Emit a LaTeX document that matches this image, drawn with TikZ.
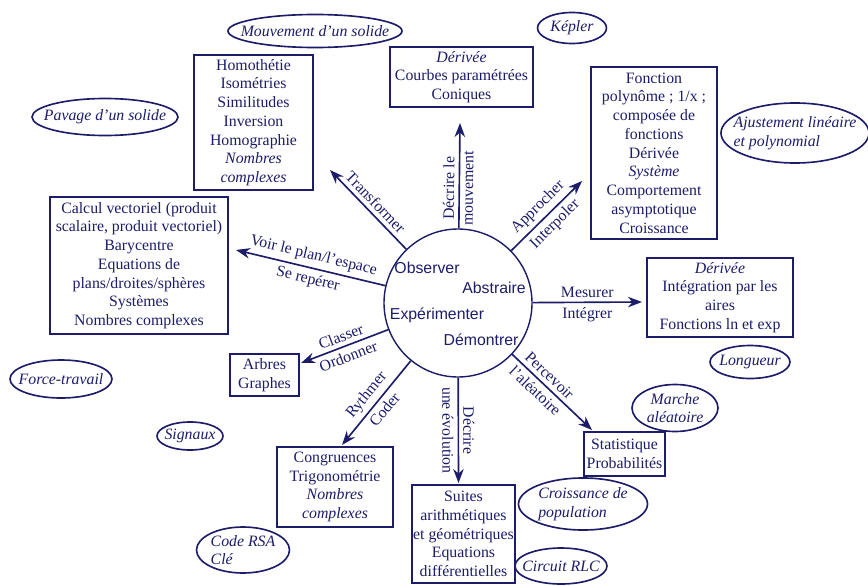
\documentclass[tikz,border=0pt]{standalone}
\usepackage{fontspec}
\setmainfont{Liberation Serif}
\setsansfont{Liberation Sans}
\usetikzlibrary{arrows.meta,shapes.geometric}
\definecolor{encre}{RGB}{28,28,105}

\begin{document}
\begin{tikzpicture}[x=0.03cm, y=-0.03cm, color=encre,
    every node/.style={font=\fontsize{13.5}{16}\selectfont},
    boite/.style={draw, line width=1.4pt, align=center, inner sep=1pt},
    bulle/.style={font=\fontsize{13.5}{16}\selectfont\itshape, align=center, inner sep=0pt},
    fleche/.style={line width=1.4pt, -{Stealth[length=12pt,width=9pt]}},
    etiq/.style={sloped, inner sep=3.5pt, midway},
    mot/.style={font=\fontsize{13.5}{16}\selectfont\sffamily}]
    \useasboundingbox (0,0) rectangle (868,585);
    % 中心圆
    \node[draw, circle, line width=1.2pt, minimum size=4.44cm] (centre) at (458,303) {};
    \node[mot] (observer) at (427,268) {Observer};
    \node[mot] (abstraire) at (494,288) {Abstraire};
    \node[mot] (experim) at (437,315) {Expérimenter};
    \node[mot] (demontrer) at (481,340) {Démontrer};

    % 方框
    \node[boite, minimum width=3.57cm, minimum height=4.05cm] (bTransf) at (253.5,122.5)
        {Homothétie\\Isométries\\Similitudes\\Inversion\\Homographie\\\textit{Nombres}\\\textit{complexes}};
    \node[boite, minimum width=4.29cm, minimum height=1.80cm] (bCourbe) at (461.5,77)
        {\textit{Dérivée}\\Courbes paramétrées\\Coniques};
    \node[boite, minimum width=3.78cm, minimum height=5.16cm] (bFonct) at (654,153)
        {Fonction\\polynôme ; 1/x ;\\composée de\\fonctions\\Dérivée\\\textit{Système}\\Comportement\\asymptotique\\Croissance};
    \node[boite, minimum width=4.38cm, minimum height=2.37cm] (bInteg) at (720,297.5)
        {\textit{Dérivée}\\Intégration par les\\aires\\Fonctions ln et  exp};
    \node[boite, minimum width=5.34cm, minimum height=4.11cm] (bVect) at (139,265.5)
        {Calcul vectoriel (produit\\scalaire, produit vectoriel)\\Barycentre\\Equations de\\plans/droites/sphères\\Systèmes\\Nombres complexes};
    \node[boite, minimum width=2.07cm, minimum height=1.26cm] (bGraphe) at (264.5,375)
        {Arbres\\Graphes};
    \node[boite, minimum width=3.48cm, minimum height=2.40cm] (bCongr) at (335,487)
        {Congruences\\Trigonométrie\\\textit{Nombres}\\\textit{complexes}};
    \node[boite, minimum width=3.09cm, minimum height=2.94cm] (bSuite) at (463.5,534)
        {Suites\\arithmétiques\\et géométriques\\Equations\\différentielles};
    \node[boite, minimum width=2.43cm, minimum height=1.32cm] (bStat) at (624.5,454)
        {Statistique\\Probabilités};

    % 箭头端点
    \coordinate (tTransf) at (330,170);
    \coordinate (tMouv) at (460,123);
    \coordinate (tAppr) at (582,181);
    \coordinate (tMes) at (642,302);
    \coordinate (tPerc) at (592,430);
    \coordinate (tEvol) at (458.5,483);
    \coordinate (tRythm) at (342,445);
    \coordinate (tClass) at (301,363);
    \coordinate (tVoir) at (236,250);

    \draw[fleche] (centre) -- (tTransf) node[etiq, above] (lTransf) {Transformer};
    \draw[fleche] (centre) -- (tMouv) node[etiq, pos=0.38, above] (lMouvA) {Décrire le}
        node[etiq, pos=0.38, below] (lMouvB) {mouvement};
    \draw[fleche] (centre) -- (tAppr) node[etiq, above] (lAppr) {Approcher}
        node[etiq, below] (lInterp) {Interpoler};
    \draw[fleche] (centre) -- (tMes) node[etiq, above] (lMes) {Mesurer}
        node[etiq, below] (lInteg) {Intégrer};
    \draw[fleche] (centre) -- (tPerc) node[etiq, pos=0.38, above] (lPerc) {Percevoir}
        node[etiq, pos=0.38, below] (lAlea) {l'aléatoire};
    \draw[fleche] (centre) -- (tEvol) node[etiq, above] (lEvolA) {Décrire}
        node[etiq, below] (lEvolB) {une évolution};
    \draw[fleche] (centre) -- (tRythm) node[etiq, above] (lRythm) {Rythmer}
        node[etiq, below] (lCoder) {Coder};
    \draw[fleche] (centre) -- (tClass) node[etiq, above] (lClass) {Classer}
        node[etiq, below] (lOrdre) {Ordonner};
    \draw[fleche] (centre) -- (tVoir) node[etiq, above] (lVoir) {Voir le plan/l'espace}
        node[etiq, below] (lRepere) {Se repérer};

    % 椭圆：应用
    \draw[line width=1.4pt] (315,31) ellipse [x radius=2.61cm, y radius=0.495cm]
        node[bulle] (eMouv) {Mouvement d'un solide};
    \draw[line width=1.4pt] (572,28) ellipse [x radius=1.035cm, y radius=0.465cm]
        node[bulle] (eKepler) {Képler};
    \draw[line width=1.4pt] (105,117) ellipse [x radius=2.19cm, y radius=0.555cm]
        node[bulle] (ePavage) {Pavage d'un solide};
    \draw[line width=1.4pt] (795,133) ellipse [x radius=2.22cm, y radius=0.9cm]
        node[bulle, align=left] (eAjust) {Ajustement linéaire\\et polynomial};
    \draw[line width=1.4pt] (61,379) ellipse [x radius=1.53cm, y radius=0.57cm]
        node[bulle] (eForce) {Force-travail};
    \draw[line width=1.4pt] (750,362) ellipse [x radius=1.2cm, y radius=0.495cm]
        node[bulle] (eLong) {Longueur};
    \draw[line width=1.4pt] (675,408) ellipse [x radius=1.29cm, y radius=0.705cm]
        node[bulle] (eMarche) {Marche\\aléatoire};
    \draw[line width=1.4pt] (190,436) ellipse [x radius=0.99cm, y radius=0.42cm]
        node[bulle] (eSignaux) {Signaux};
    \draw[line width=1.4pt] (243,550) ellipse [x radius=1.395cm, y radius=0.69cm]
        node[bulle, align=left] (eRSA) {Code RSA\\Clé};
    \draw[line width=1.4pt] (583,504) ellipse [x radius=1.935cm, y radius=0.78cm]
        node[bulle, align=left] (eCroiss) {Croissance de\\population};
    \draw[line width=1.4pt] (561,566) ellipse [x radius=1.38cm, y radius=0.54cm]
        node[bulle] (eRLC) {Circuit RLC};
\end{tikzpicture}
\end{document}
